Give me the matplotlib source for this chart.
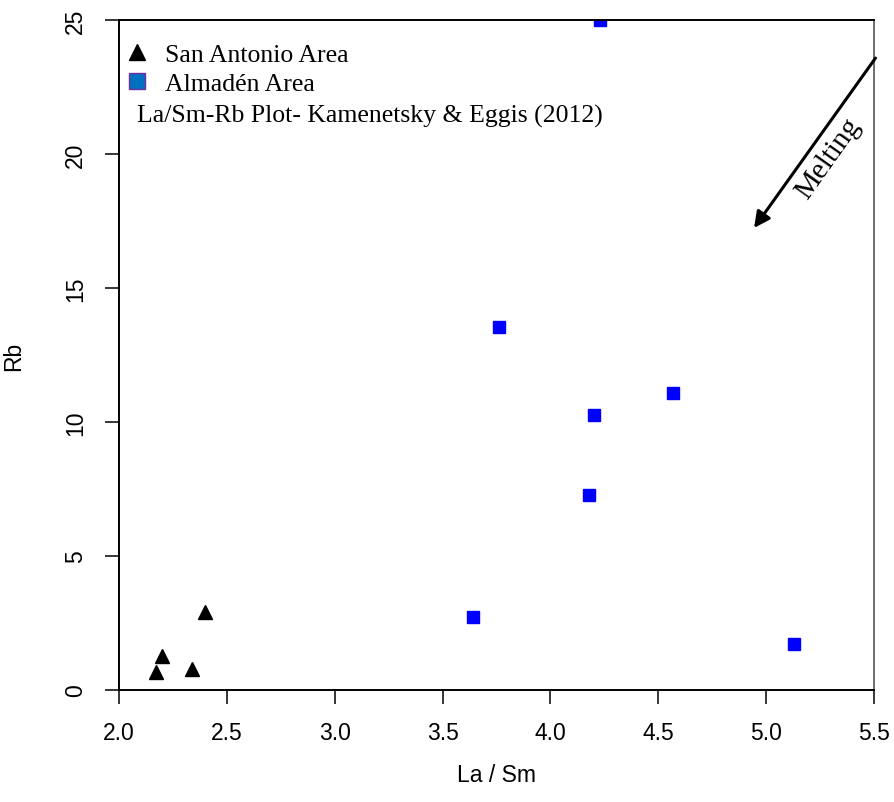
import matplotlib
matplotlib.use('Agg')
import matplotlib.pyplot as plt
from matplotlib.lines import Line2D
import numpy as np

# San Antonio Area (triangles)
sa_lasm = [2.17, 2.20, 2.34, 2.40]
sa_rb = [0.67, 1.27, 0.78, 2.91]

# Almadén Area (squares)
al_lasm = [3.64, 3.76, 4.18, 4.20, 4.57, 5.13, 4.23]
al_rb = [2.72, 13.54, 7.28, 10.26, 11.08, 1.72, 25.0]

xticks = [2.0, 2.5, 3.0, 3.5, 4.0, 4.5, 5.0, 5.5]
yticks = [0, 5, 10, 15, 20, 25]

# fleche "Melting"
arrow_start = (5.507, 23.58)
arrow_end = (4.944, 17.24)

sans = 'Liberation Sans'
serif = 'Liberation Serif'

fig = plt.figure(figsize=(8.94, 8.03), dpi=100)
ax = fig.add_axes([0.1331, 0.1395, 0.8445, 0.8343])

ax.plot(sa_lasm, sa_rb, linestyle='none', marker='^', markersize=9.5,
        color='black')
ax.plot(al_lasm, al_rb, linestyle='none', marker='s', markersize=8,
        color='#0000FF')

ax.set_xlim(2.0, 5.5)
ax.set_ylim(0, 25)
ax.set_xticks(xticks)
ax.set_xticklabels([f'{v:.1f}' for v in xticks], fontsize=16.5, family=sans)
ax.set_yticks(yticks)
ax.set_yticklabels([str(v) for v in yticks], fontsize=16.5, family=sans,
                   rotation=90, va='center')
ax.tick_params(axis='x', length=10, width=1.1, pad=12)
ax.tick_params(axis='y', length=10, width=1.1, pad=13)

for side in ['left', 'bottom', 'top']:
    ax.spines[side].set_linewidth(1.4)
ax.spines['right'].set_linewidth(1.2)
ax.spines['right'].set_color('#555555')

ax.set_xlabel('La / Sm', fontsize=16.5, family=sans, labelpad=14)
ax.set_ylabel('Rb', fontsize=16.5, family=sans, labelpad=28)

# legende
handles = [
    Line2D([], [], linestyle='none', marker='^', markersize=12,
           color='black'),
    Line2D([], [], linestyle='none', marker='s', markersize=11,
           markerfacecolor='#0070C0', markeredgecolor='#7030A0',
           markeredgewidth=1),
]
leg = ax.legend(handles, ['San Antonio Area', 'Almadén Area'],
                loc='upper left', bbox_to_anchor=(0.0, 0.9735),
                frameon=False, prop={'family': serif, 'size': 18.5},
                handlelength=1.0, handletextpad=0.6, labelspacing=0.24,
                borderpad=0.2, borderaxespad=0.0)

ax.text(0.024, 0.857, 'La/Sm-Rb Plot- Kamenetsky & Eggis (2012)',
        transform=ax.transAxes, fontsize=18.5, family=serif,
        ha='left', va='center')

ax.annotate('', xy=arrow_end, xytext=arrow_start,
            arrowprops=dict(arrowstyle='-|>', lw=2.2, color='black',
                            mutation_scale=24, shrinkA=0, shrinkB=0),
            annotation_clip=False)
ax.text(5.29, 19.85, 'Melting', fontsize=21, family=serif,
        rotation=54.6, ha='center', va='center', rotation_mode='anchor')

fig.savefig('out.png', dpi=100)
